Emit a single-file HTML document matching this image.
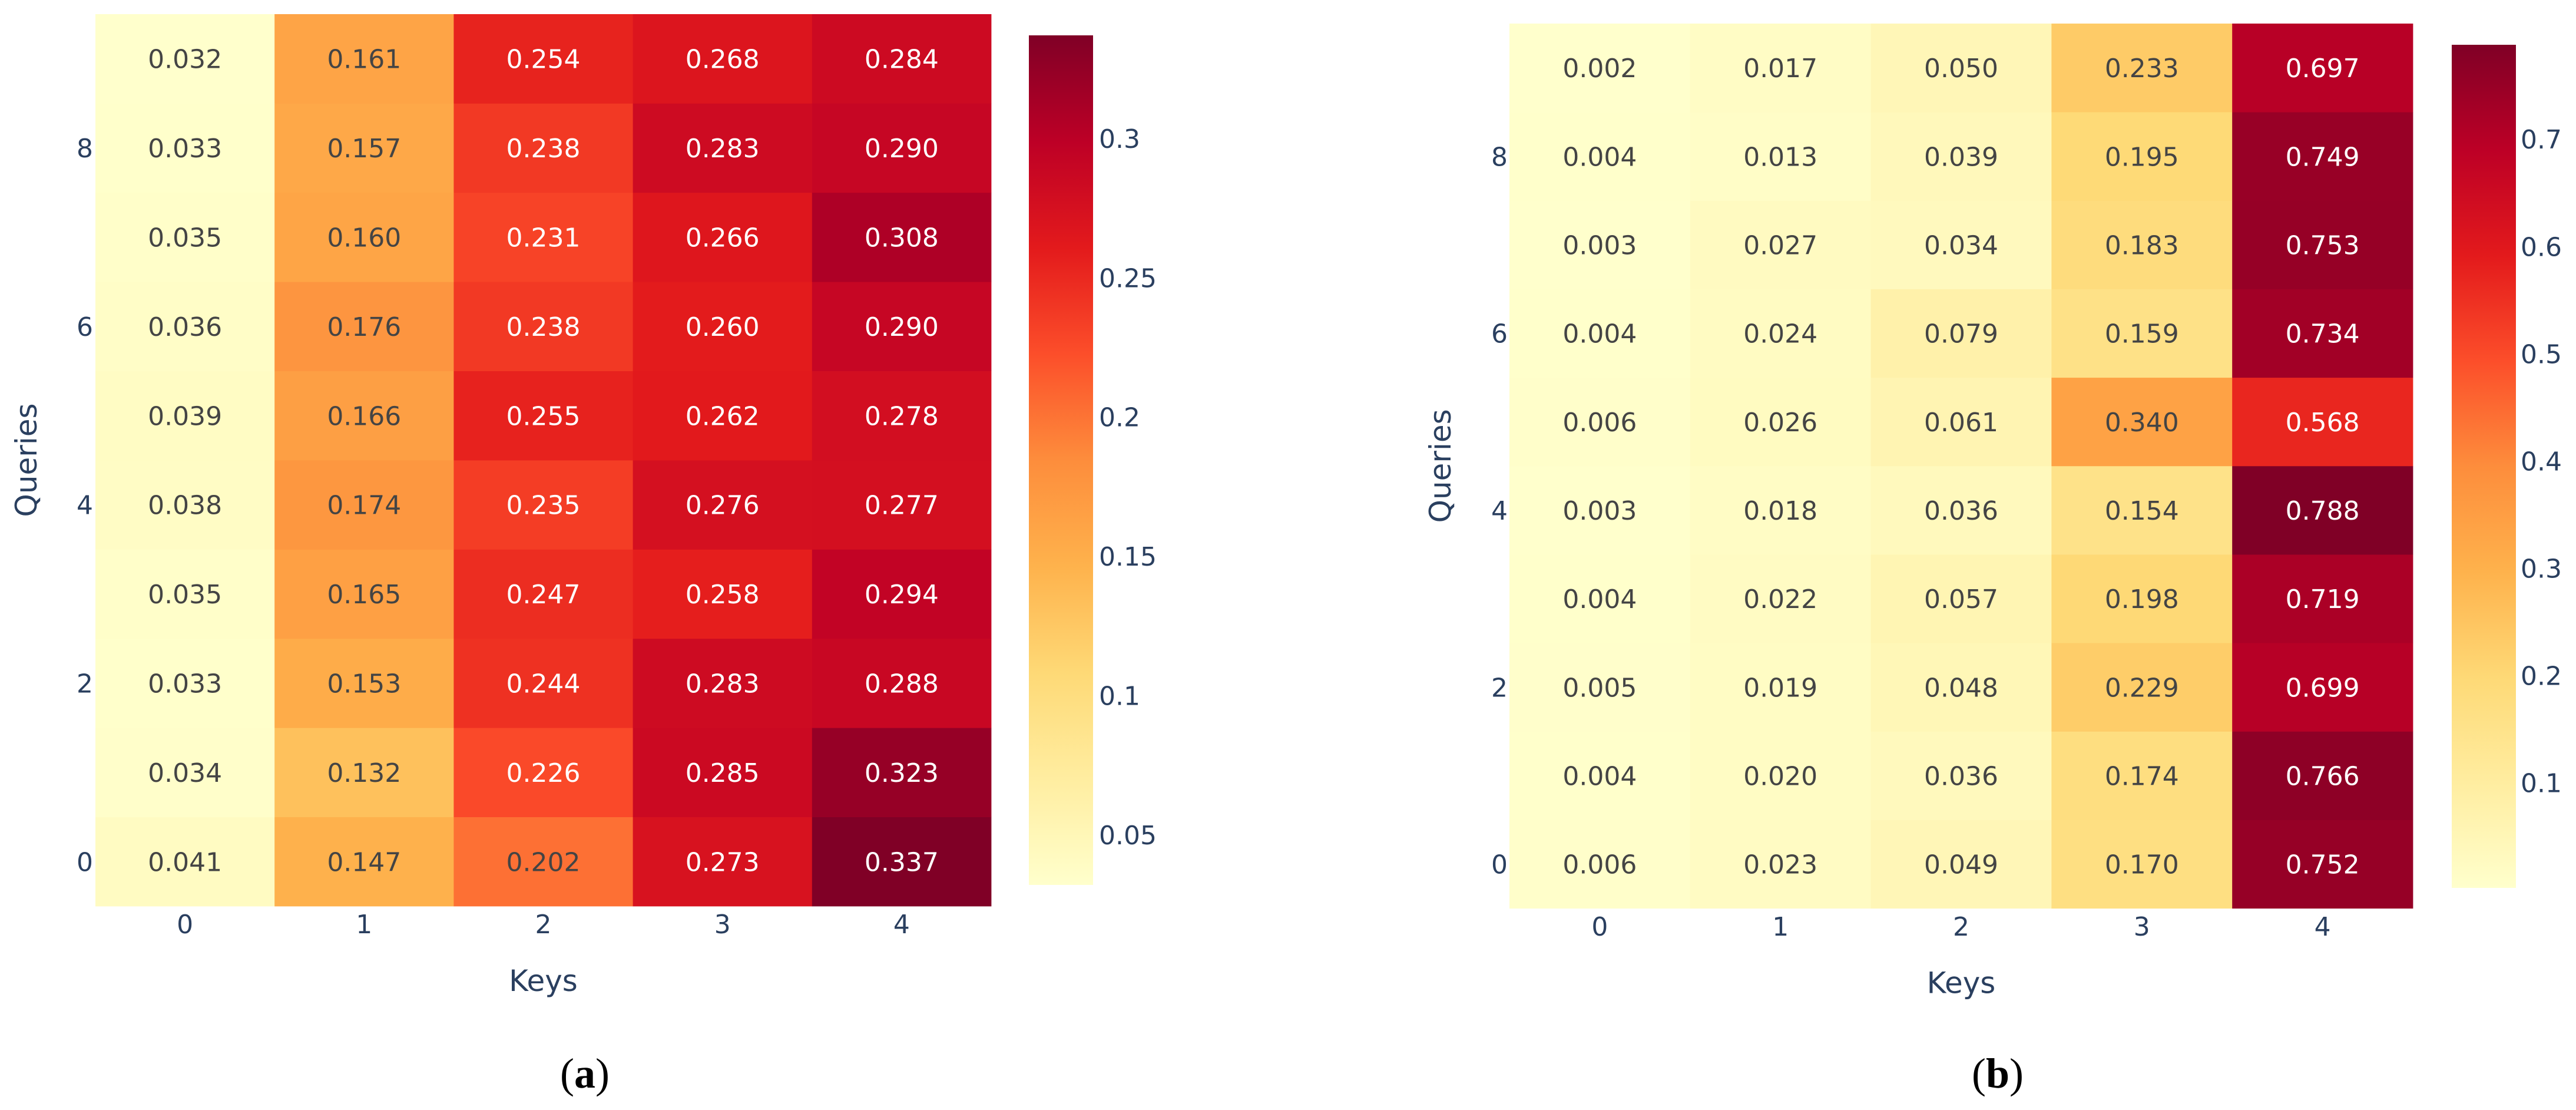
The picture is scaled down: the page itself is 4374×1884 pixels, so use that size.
<!DOCTYPE html>
<html lang="en">
<head>
<meta charset="utf-8">
<title>Query-key attention heatmaps</title>
<style>
html,body{margin:0;padding:0;background:#fff;width:4374px;height:1884px;overflow:hidden}
svg{display:block}
text{font-family:"DejaVu Sans","Liberation Sans",sans-serif}
.caption{font-family:"Liberation Serif",serif;font-size:72px;fill:#000}
</style>
</head>
<body>
<svg id="figure" xmlns="http://www.w3.org/2000/svg" width="4374" height="1884" viewBox="0 0 4374 1884">
  <rect x="0" y="0" width="4374" height="1884" fill="#ffffff"/>
  <defs id="defs"></defs>
  <g id="panel-a"></g>
  <g id="panel-b"></g>
  <text class="caption" x="993" y="1846" text-anchor="middle">(<tspan font-weight="bold">a</tspan>)</text>
  <text class="caption" x="3392" y="1846" text-anchor="middle">(<tspan font-weight="bold">b</tspan>)</text>
</svg>
<script>
// ---- data ----
const keyCategories = [0, 1, 2, 3, 4];
const queryCategories = [0, 1, 2, 3, 4, 5, 6, 7, 8, 9];
const queryTickLabels = [0, 2, 4, 6, 8];
const keyTickLabels = [0, 1, 2, 3, 4];

// rows listed from query 0 upward
const valuesA = [
  [0.041, 0.147, 0.202, 0.273, 0.337],
  [0.034, 0.132, 0.226, 0.285, 0.323],
  [0.033, 0.153, 0.244, 0.283, 0.288],
  [0.035, 0.165, 0.247, 0.258, 0.294],
  [0.038, 0.174, 0.235, 0.276, 0.277],
  [0.039, 0.166, 0.255, 0.262, 0.278],
  [0.036, 0.176, 0.238, 0.260, 0.290],
  [0.035, 0.160, 0.231, 0.266, 0.308],
  [0.033, 0.157, 0.238, 0.283, 0.290],
  [0.032, 0.161, 0.254, 0.268, 0.284]
];
const valuesB = [
  [0.006, 0.023, 0.049, 0.170, 0.752],
  [0.004, 0.020, 0.036, 0.174, 0.766],
  [0.005, 0.019, 0.048, 0.229, 0.699],
  [0.004, 0.022, 0.057, 0.198, 0.719],
  [0.003, 0.018, 0.036, 0.154, 0.788],
  [0.006, 0.026, 0.061, 0.340, 0.568],
  [0.004, 0.024, 0.079, 0.159, 0.734],
  [0.003, 0.027, 0.034, 0.183, 0.753],
  [0.004, 0.013, 0.039, 0.195, 0.749],
  [0.002, 0.017, 0.050, 0.233, 0.697]
];
const colorbarTicksA = [0.05, 0.1, 0.15, 0.2, 0.25, 0.3];
const colorbarTickLabelsA = ["0.05", "0.1", "0.15", "0.2", "0.25", "0.3"];
const colorbarTicksB = [0.1, 0.2, 0.3, 0.4, 0.5, 0.6, 0.7];
const colorbarTickLabelsB = ["0.1", "0.2", "0.3", "0.4", "0.5", "0.6", "0.7"];
const ylOrRd = [[255,255,204],[255,237,160],[254,217,118],[254,178,76],[253,141,60],[252,78,42],[227,26,28],[189,0,38],[128,0,38]];

// ---- layout ----
const layoutA = {id:'a', left:162, right:1683, top:24, bottom:1538, barLeft:1747, barRight:1856, barTop:60, barBottom:1502,
  xTickY:1584, yTickX:158, xTitleX:922.5, xTitleY:1682, yTitleX:62, barLabelX:1866};
const layoutB = {id:'b', left:2563, right:4097, top:40, bottom:1541.7, barLeft:4163, barRight:4272, barTop:76, barBottom:1507,
  xTickY:1588, yTickX:2560, xTitleX:3330, xTitleY:1685.5, yTitleX:2463, barLabelX:4280};

const SVGNS = 'http://www.w3.org/2000/svg';
const TICK_FONT = 44, TITLE_FONT = 50, DIGIT_SHIFT = 16;

function mix(t) {
  const p = Math.min(Math.max(t, 0), 1) * (ylOrRd.length - 1);
  const i = Math.min(Math.floor(p), ylOrRd.length - 2);
  const f = p - i;
  return ylOrRd[i].map((c, k) => Math.round(c + (ylOrRd[i + 1][k] - c) * f));
}
const rgb = c => 'rgb(' + c.join(',') + ')';
const brightness = c => (c[0] * 299 + c[1] * 587 + c[2] * 114) / 1000;

function make(tag, attrs, parent, content) {
  const el = document.createElementNS(SVGNS, tag);
  for (const k in attrs) el.setAttribute(k, attrs[k]);
  if (content !== undefined) el.textContent = content;
  parent.appendChild(el);
  return el;
}

function drawPanel(L, values, barTicks, barLabels) {
  const root = document.getElementById('panel-' + L.id);
  const flat = values.reduce((a, r) => a.concat(r), []);
  const zmin = Math.min.apply(null, flat), zmax = Math.max.apply(null, flat);
  const colW = (L.right - L.left) / keyCategories.length;
  const rowH = (L.bottom - L.top) / queryCategories.length;
  const xCenter = k => L.left + (k + 0.5) * colW;
  const yCenter = q => L.bottom - (q + 0.5) * rowH;
  const norm = v => (v - zmin) / (zmax - zmin);
  const barY = v => L.barBottom - norm(v) * (L.barBottom - L.barTop);

  // cells
  queryCategories.forEach((q, qi) => {
    keyCategories.forEach((k, ki) => {
      const v = values[qi][ki];
      const c = mix(norm(v));
      const rect = make('rect', {x: L.left + ki * colW, y: L.bottom - (qi + 1) * rowH, width: colW + 0.4, height: rowH + 0.4, fill: rgb(c)}, root);
      
      
    });
  });
  // cell labels drawn after all cells
  queryCategories.forEach((q, qi) => {
    keyCategories.forEach((k, ki) => {
      const v = values[qi][ki];
      const c = mix(norm(v));
      const label = make('text', {x: xCenter(ki), y: yCenter(qi) + DIGIT_SHIFT, 'text-anchor': 'middle', 'font-size': TICK_FONT, fill: brightness(c) > 128 ? '#444444' : '#ffffff'}, root, v.toFixed(3));
      
      
    });
  });
  // x ticks
  keyTickLabels.forEach(k => {
    const t = make('text', {x: xCenter(k), y: L.xTickY, 'text-anchor': 'middle', 'font-size': TICK_FONT, fill: '#2a3f5f'}, root, String(k));
    
    
  });
  // y ticks
  queryTickLabels.forEach(q => {
    const t = make('text', {x: L.yTickX, y: yCenter(q) + DIGIT_SHIFT, 'text-anchor': 'end', 'font-size': TICK_FONT, fill: '#2a3f5f'}, root, String(q));
    
    
  });
  // axis titles
  const xt = make('text', {x: L.xTitleX, y: L.xTitleY, 'text-anchor': 'middle', 'font-size': TITLE_FONT, fill: '#2a3f5f'}, root, 'Keys');
  
  
  const cy = (L.top + L.bottom) / 2;
  const yt = make('text', {x: 0, y: 0, transform: 'translate(' + L.yTitleX + ',' + cy + ') rotate(-90)', 'text-anchor': 'middle', 'font-size': TITLE_FONT, fill: '#2a3f5f'}, root, 'Queries');
  
  
  // colorbar
  const defs = document.getElementById('defs');
  const grad = make('linearGradient', {id: 'grad-' + L.id, x1: 0, y1: 1, x2: 0, y2: 0}, defs);
  ylOrRd.forEach((c, i) => make('stop', {offset: i / (ylOrRd.length - 1), 'stop-color': rgb(c)}, grad));
  const bar = make('rect', {x: L.barLeft, y: L.barTop, width: L.barRight - L.barLeft, height: L.barBottom - L.barTop, fill: 'url(#grad-' + L.id + ')'}, root);
  
  
  barTicks.forEach((v, i) => {
    const t = make('text', {x: L.barLabelX, y: barY(v) + DIGIT_SHIFT, 'font-size': TICK_FONT, fill: '#2a3f5f'}, root, barLabels[i]);
    
    
  });
}

drawPanel(layoutA, valuesA, colorbarTicksA, colorbarTickLabelsA);
drawPanel(layoutB, valuesB, colorbarTicksB, colorbarTickLabelsB);
</script>
</body>
</html>
